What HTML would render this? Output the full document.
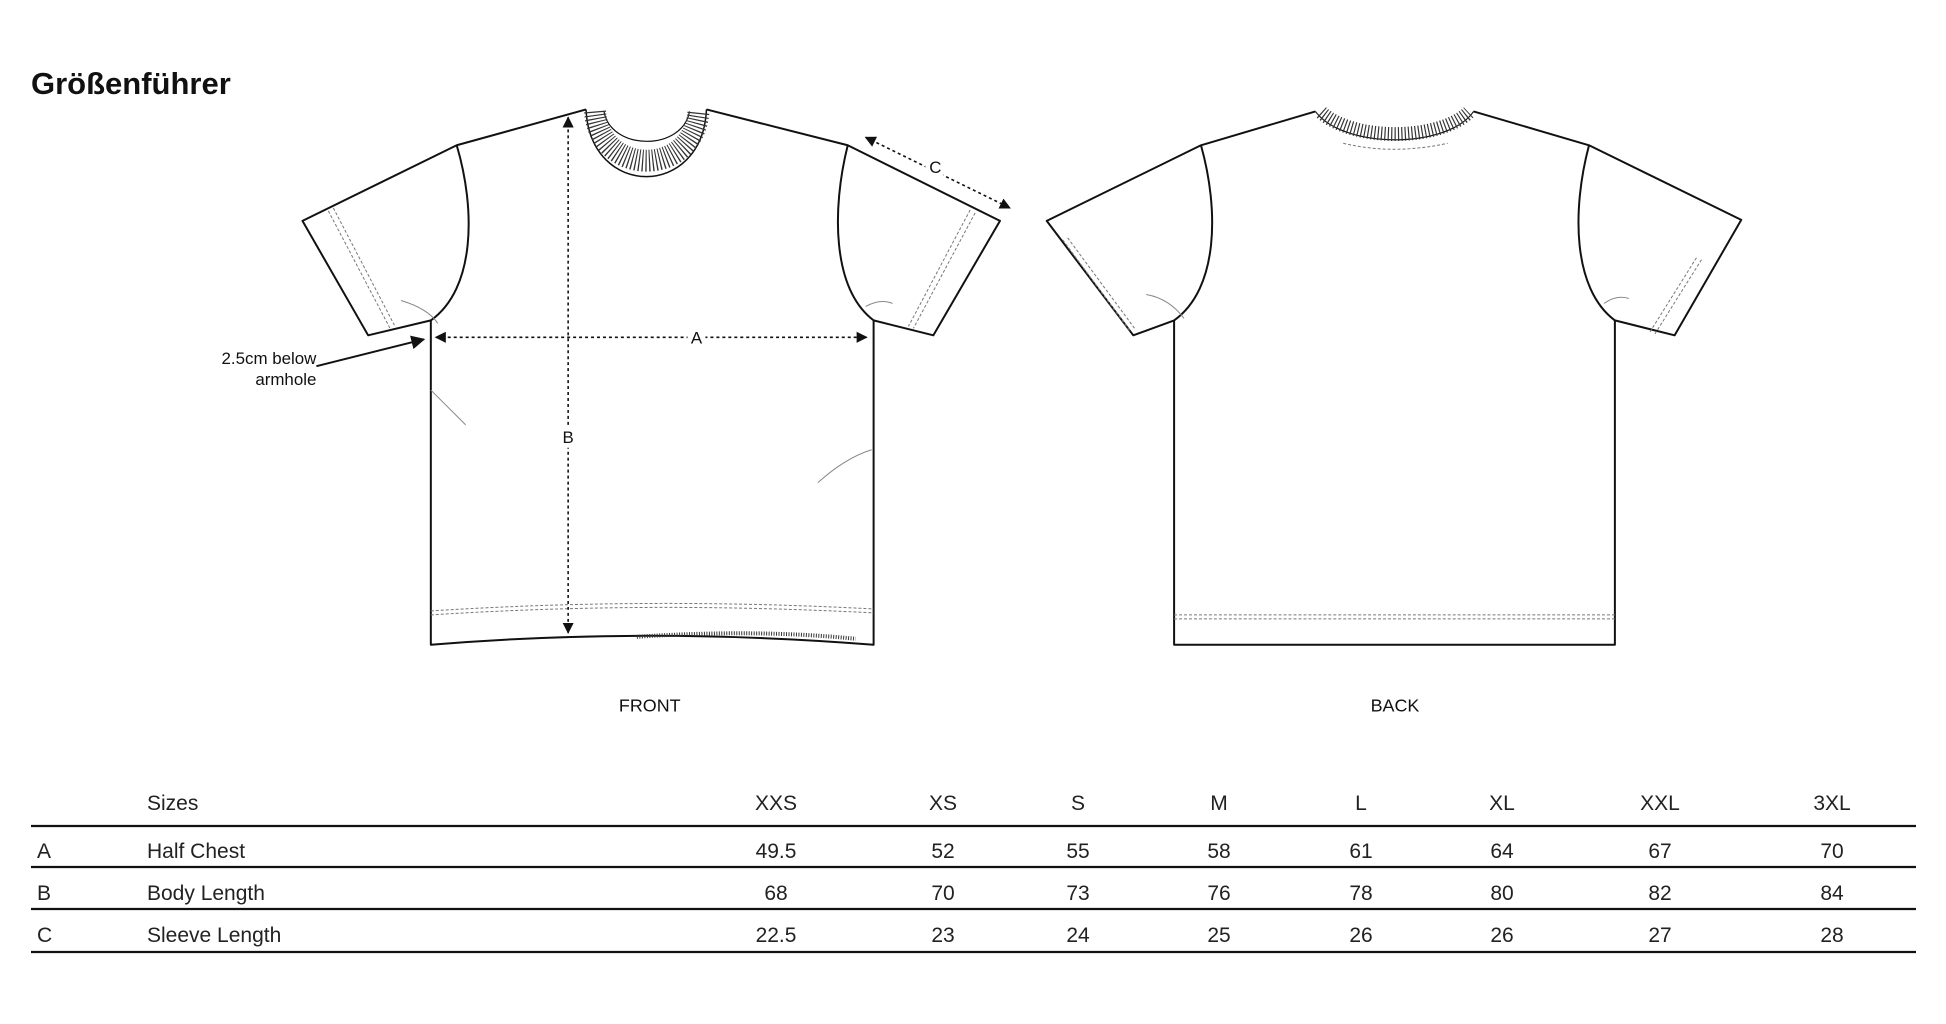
<!DOCTYPE html>
<html><head><meta charset="utf-8"><style>
html,body{margin:0;padding:0;background:#fff;}
svg{display:block;}
</style></head><body>
<svg width="1946" height="1024" viewBox="0 0 1946 1024" xmlns="http://www.w3.org/2000/svg">
<defs>
<marker id="ah" viewBox="0 0 10 10" refX="9" refY="5" markerWidth="7" markerHeight="7" orient="auto-start-reverse">
<path d="M0,0 L10,5 L0,10 z" fill="#111"/>
</marker>
</defs>
<text x="31" y="94" font-family="Liberation Sans, sans-serif" font-weight="bold" font-size="31" fill="#111">Größenführer</text>

<g transform="scale(0.995)">
<!-- FRONT SHIRT -->
<g fill="none" stroke="#111" stroke-width="2" stroke-linejoin="round">
<path d="M589,110 L459,146 L304,222 L370,337 L433,322 L433,648 Q650,630 878,648 L878,322 L938,337 L1005,222 L852,146 L710,110"/>
<path d="M459,146 C478,210 478,290 433,322"/>
<path d="M852,146 C836,210 836,290 878,322"/>
<path d="M589,110 C593,200 706,200 710,110" stroke-width="1.5"/>
<path d="M607,112 C614,152 686,152 693,112" stroke-width="1.2"/>
<path d="M598,112 C603,178 697,178 702,112" stroke-width="22" stroke-dasharray="1.2,2.2" stroke="#333"/>
<path d="M640,640 Q760,632 860,642" stroke-width="4" stroke-dasharray="1,1.5" stroke="#333"/>
</g>
<g fill="none" stroke="#777" stroke-width="1" stroke-dasharray="3,2">
<path d="M330,212 L392,330"/><path d="M335,209 L397,328"/>
<path d="M980,214 L918,330"/><path d="M975,211 L913,328"/>
<path d="M433,614 Q650,600 878,612"/><path d="M433,618 Q650,604 878,616"/>
</g>
<g fill="none" stroke="#888" stroke-width="1">
<path d="M433,392 L468,427"/><path d="M822,485 Q850,460 876,452"/>
<path d="M403,302 Q430,310 440,325"/><path d="M870,308 Q885,300 897,305"/>
</g>

<!-- BACK SHIRT -->
<g fill="none" stroke="#111" stroke-width="2" stroke-linejoin="round">
<path d="M1322,112 L1207,146 L1052,222 L1139,337 L1180,322 L1180,648 L1623,648 L1623,322 L1683,337 L1750,221 L1597,146 L1481,112"/>
<path d="M1207,146 C1225,210 1225,290 1180,322"/>
<path d="M1597,146 C1580,210 1580,290 1623,322"/>
<path d="M1322,112 C1350,150 1455,150 1481,112" stroke-width="1.2"/>
<path d="M1328,113 C1360,142 1445,142 1476,113" stroke-width="14" stroke-dasharray="1.2,2.2" stroke="#333"/>
</g>
<g fill="none" stroke="#777" stroke-width="1" stroke-dasharray="3,2">
<path d="M1068,241 L1136,333"/><path d="M1073,239 L1141,331"/>
<path d="M1705,259 L1658,334"/><path d="M1710,261 L1663,336"/>
<path d="M1180,618 L1623,618"/><path d="M1180,622 L1623,622"/>
<path d="M1350,144 Q1400,156 1455,144"/>
</g>
<g fill="none" stroke="#888" stroke-width="1">
<path d="M1152,296 Q1175,300 1190,320"/><path d="M1612,305 Q1625,296 1637,300"/>
</g>

<!-- Measurements -->
<g stroke="#111" stroke-width="1.6" stroke-dasharray="3,3" fill="none">
<line x1="438" y1="339" x2="871" y2="339" marker-start="url(#ah)" marker-end="url(#ah)"/>
<line x1="571" y1="118" x2="571" y2="636" marker-start="url(#ah)" marker-end="url(#ah)"/>
<line x1="870" y1="138" x2="1015" y2="209" marker-start="url(#ah)" marker-end="url(#ah)"/>
</g>
<line x1="318" y1="368" x2="426" y2="341" stroke="#111" stroke-width="2" marker-end="url(#ah)"/>
<g font-family="Liberation Sans, sans-serif" fill="#111" font-size="17">
<rect x="691" y="329" width="18" height="20" fill="#fff"/>
<text x="700" y="345" text-anchor="middle">A</text>
<rect x="562" y="428" width="18" height="22" fill="#fff"/>
<text x="571" y="445" text-anchor="middle">B</text>
<rect x="930" y="158" width="18" height="20" fill="#fff"/>
<text x="940" y="174" text-anchor="middle">C</text>
<text x="318" y="366" text-anchor="end" font-size="17">2.5cm below</text>
<text x="318" y="387" text-anchor="end" font-size="17">armhole</text>
<text x="653" y="715" text-anchor="middle" font-size="18">FRONT</text>
<text x="1402" y="715" text-anchor="middle" font-size="18">BACK</text>
</g>
</g>

<!-- TABLE -->
<g stroke="#111" stroke-width="2.2">
<line x1="31" y1="826" x2="1916" y2="826"/>
<line x1="31" y1="867" x2="1916" y2="867"/>
<line x1="31" y1="909" x2="1916" y2="909"/>
<line x1="31" y1="952" x2="1916" y2="952"/>
</g>
<g font-family="Liberation Sans, sans-serif" font-size="21" fill="#222">
<text x="147" y="810">Sizes</text>
<text x="37" y="858">A</text><text x="147" y="858">Half Chest</text>
<text x="37" y="900">B</text><text x="147" y="900">Body Length</text>
<text x="37" y="942">C</text><text x="147" y="942">Sleeve Length</text>
<g text-anchor="middle">
<text x="776" y="810">XXS</text><text x="943" y="810">XS</text><text x="1078" y="810">S</text><text x="1219" y="810">M</text><text x="1361" y="810">L</text><text x="1502" y="810">XL</text><text x="1660" y="810">XXL</text><text x="1832" y="810">3XL</text>
<text x="776" y="858">49.5</text><text x="943" y="858">52</text><text x="1078" y="858">55</text><text x="1219" y="858">58</text><text x="1361" y="858">61</text><text x="1502" y="858">64</text><text x="1660" y="858">67</text><text x="1832" y="858">70</text>
<text x="776" y="900">68</text><text x="943" y="900">70</text><text x="1078" y="900">73</text><text x="1219" y="900">76</text><text x="1361" y="900">78</text><text x="1502" y="900">80</text><text x="1660" y="900">82</text><text x="1832" y="900">84</text>
<text x="776" y="942">22.5</text><text x="943" y="942">23</text><text x="1078" y="942">24</text><text x="1219" y="942">25</text><text x="1361" y="942">26</text><text x="1502" y="942">26</text><text x="1660" y="942">27</text><text x="1832" y="942">28</text>
</g>
</g>
</svg>
</body></html>
